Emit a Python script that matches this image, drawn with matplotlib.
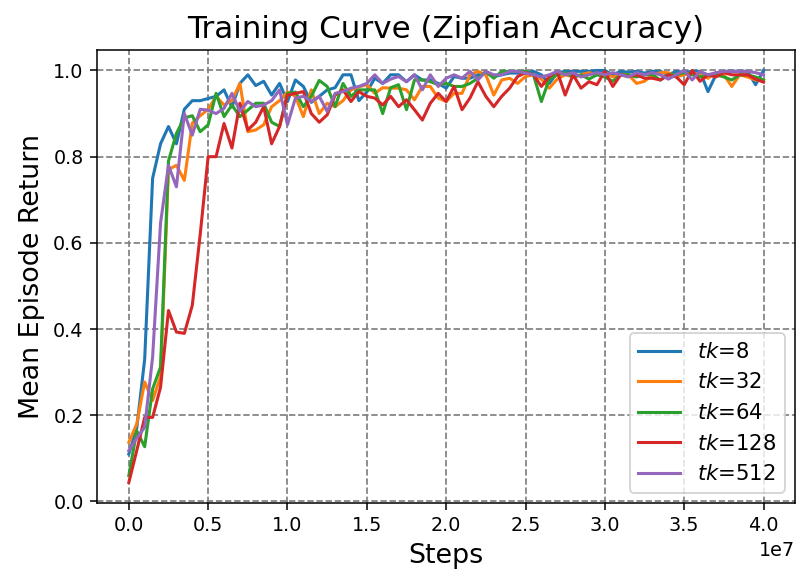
import numpy as np
import matplotlib
matplotlib.use("Agg")
import matplotlib.pyplot as plt

# steps: one evaluation every 5e5 steps, 0 .. 4e7
steps = np.arange(81) * 5e5

tk8 = [0.11, 0.17, 0.33, 0.75, 0.83, 0.87, 0.83, 0.91, 0.93, 0.93,
       0.935, 0.94, 0.955, 0.915, 0.97, 0.99, 0.965, 0.975, 0.943, 0.97,
       0.928, 0.978, 0.963, 0.926, 0.94, 0.955, 0.96, 0.99, 0.99, 0.93,
       0.95, 0.982, 0.97, 0.99, 0.99, 0.974, 0.99, 0.978, 0.978, 0.97,
       0.959, 0.986, 0.982, 0.982, 0.99, 0.994, 0.986, 0.99, 0.994, 0.994,
       0.994, 0.998, 0.99, 0.97, 0.995, 0.998, 0.998, 0.998, 0.998, 1.0,
       1.0, 0.99, 0.998, 0.996, 0.998, 0.994, 0.998, 0.998, 0.99, 0.998,
       0.996, 0.998, 0.998, 0.951, 0.99, 0.998, 0.998, 0.998, 0.998, 0.967,
       1.0]
tk32 = [0.137, 0.18, 0.277, 0.234, 0.29, 0.77, 0.78, 0.745, 0.878, 0.895,
        0.91, 0.94, 0.92, 0.93, 0.97, 0.858, 0.862, 0.874, 0.916, 0.93,
        0.95, 0.94, 0.893, 0.955, 0.9, 0.924, 0.916, 0.93, 0.955, 0.962,
        0.967, 0.947, 0.96, 0.959, 0.959, 0.955, 0.932, 0.963, 0.963, 0.936,
        0.928, 0.947, 0.947, 0.99, 0.998, 0.99, 0.943, 0.978, 0.982, 0.97,
        0.986, 0.99, 0.98, 0.959, 0.98, 0.99, 0.985, 0.99, 0.995, 0.99,
        0.995, 0.985, 0.99, 0.99, 0.97, 0.975, 0.99, 0.995, 0.995, 0.985,
        0.99, 0.995, 0.99, 0.982, 0.995, 0.99, 0.963, 0.99, 0.985, 0.978,
        0.978]
tk64 = [0.06, 0.164, 0.127, 0.261, 0.312, 0.79, 0.854, 0.89, 0.895, 0.858,
        0.874, 0.947, 0.893, 0.92, 0.893, 0.908, 0.924, 0.924, 0.88, 0.87,
        0.947, 0.95, 0.916, 0.94, 0.977, 0.963, 0.916, 0.97, 0.94, 0.955,
        0.955, 0.955, 0.9, 0.96, 0.967, 0.909, 0.978, 0.978, 0.974, 0.967,
        0.97, 0.963, 0.963, 0.97, 0.982, 0.998, 0.982, 0.998, 0.998, 0.998,
        0.998, 0.99, 0.928, 0.98, 0.99, 0.995, 0.985, 0.99, 0.98, 0.99,
        0.985, 0.975, 0.99, 0.99, 0.985, 0.99, 0.99, 0.978, 0.99, 0.99,
        0.995, 0.99, 0.985, 0.99, 0.99, 0.985, 0.978, 0.99, 0.99, 0.985,
        0.978]
tk128 = [0.044, 0.118, 0.195, 0.195, 0.265, 0.443, 0.393, 0.39, 0.455, 0.62,
         0.8, 0.8, 0.877, 0.82, 0.924, 0.862, 0.88, 0.916, 0.83, 0.87,
         0.943, 0.947, 0.951, 0.9, 0.88, 0.897, 0.943, 0.955, 0.928, 0.951,
         0.94, 0.936, 0.92, 0.94, 0.916, 0.932, 0.909, 0.885, 0.924, 0.947,
         0.928, 0.963, 0.909, 0.936, 0.974, 0.94, 0.916, 0.94, 0.959, 0.986,
         0.995, 0.99, 0.963, 0.986, 0.998, 0.943, 0.99, 0.959, 0.974, 0.967,
         0.998, 0.963, 0.99, 0.986, 0.99, 0.982, 0.982, 0.978, 0.99, 0.985,
         0.967, 1.0, 0.975, 0.99, 0.985, 0.995, 0.99, 0.99, 0.99, 0.98,
         0.973]
tk512 = [0.118, 0.147, 0.172, 0.335, 0.646, 0.78, 0.73, 0.9, 0.85, 0.91,
         0.908, 0.9, 0.912, 0.947, 0.905, 0.928, 0.916, 0.92, 0.93, 0.955,
         0.874, 0.936, 0.94, 0.928, 0.94, 0.905, 0.947, 0.951, 0.959, 0.963,
         0.97, 0.99, 0.97, 0.98, 0.986, 0.974, 0.99, 0.955, 0.99, 0.963,
         0.982, 0.99, 0.982, 0.998, 0.978, 0.998, 0.99, 0.99, 0.998, 0.998,
         0.994, 0.99, 0.985, 0.99, 0.998, 0.99, 0.995, 0.985, 0.99, 0.995,
         0.99, 0.995, 0.99, 0.985, 0.995, 0.99, 0.995, 0.99, 0.98, 0.99,
         1.0, 0.978, 0.998, 0.99, 0.995, 0.998, 0.998, 0.998, 0.998, 0.995,
         0.99]

series = [(tk8, "8"), (tk32, "32"), (tk64, "64"), (tk128, "128"), (tk512, "512")]

DPI = 138
fig, ax = plt.subplots(figsize=(809 / DPI, 587 / DPI), dpi=DPI)
fig.subplots_adjust(left=0.12, right=0.983, top=0.915, bottom=0.143)

for vals, k in series:
    ax.plot(steps, vals, linewidth=1.6, label=f"$tk$={k}")

ax.set_title("Training Curve (Zipfian Accuracy)", fontsize=16.2)
ax.set_xlabel("Steps", fontsize=14)
ax.set_ylabel("Mean Episode Return", fontsize=14)
ax.grid(True, color="gray", linestyle="--", linewidth=0.9)
ax.legend(loc="lower right", fontsize=11)

fig.savefig("out.png", dpi=DPI)
